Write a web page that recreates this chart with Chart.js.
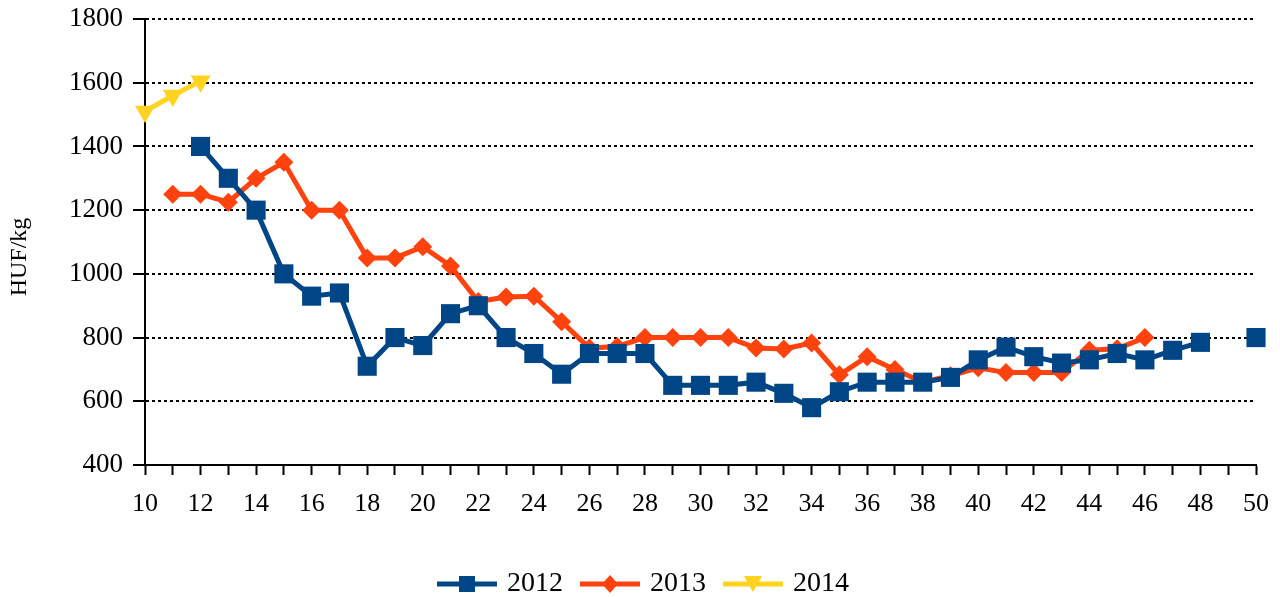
<!DOCTYPE html>
<html>
<head>
<meta charset="utf-8">
<script src="https://cdn.jsdelivr.net/npm/chart.js@4"></script>
<style>
  html, body { margin: 0; padding: 0; background: #fff; }
  #wrap { width: 1280px; height: 597px; }
</style>
</head>
<body>
<div id="wrap"><canvas id="chart"></canvas></div>
<script>
// weekly prices, HUF/kg
var weeks2012 = [12,13,14,15,16,17,18,19,20,21,22,23,24,25,26,27,28,29,30,31,32,33,34,35,36,37,38,39,40,41,42,43,44,45,46,47,48,49,50];
var values2012 = [1400,1300,1200,1000,930,940,710,800,775,875,900,800,750,685,750,750,750,650,650,650,660,625,580,630,660,660,660,675,730,770,740,720,730,750,730,760,785,null,800];

var weeks2013 = [11,12,13,14,15,16,17,18,19,20,21,22,23,24,25,26,27,28,29,30,31,32,33,34,35,36,37,38,39,40,41,42,43,44,45,46];
var values2013 = [1250,1250,1225,1300,1350,1200,1200,1050,1050,1085,1025,913,927,930,850,767,772,800,800,800,800,767,764,783,683,740,700,660,680,705,690,690,690,760,765,800];

var weeks2014 = [10,11,12];
var values2014 = [1510,1560,1605];

var seriesNames = ['2012','2013','2014'];
var colors = ['#004586','#ff420e','#ffd320'];
var yTitle = 'HUF/kg';

function toPoints(weeks, vals){
    var pts = [];
    for(var i=0;i<weeks.length;i++){
        pts.push({x: weeks[i], y: vals[i]});
    }
    return pts;
}

// little "line + marker" pictures for the legend
function legendIcon(color, shape){
    var c = document.createElement('canvas');
    c.width = 60; c.height = 24;
    var g = c.getContext('2d');
    g.strokeStyle = color;
    g.fillStyle = color;
    g.lineWidth = 5;
    g.beginPath(); g.moveTo(0,12); g.lineTo(60,12); g.stroke();
    g.beginPath();
    if(shape == 'rect'){
        g.rect(22,4,16,16);
    }else if(shape == 'diamond'){
        g.moveTo(30,3); g.lineTo(38,12); g.lineTo(30,21); g.lineTo(22,12);
    }else{
        g.moveTo(21,4); g.lineTo(39,4); g.lineTo(30,20);
    }
    g.closePath();
    g.fill();
    return c;
}
var icons = [legendIcon(colors[0],'rect'), legendIcon(colors[1],'diamond'), legendIcon(colors[2],'tri')];

// y title sits a little below the middle of the axis in the original
var yTitlePlugin = {
    id: 'yTitle',
    afterDraw: function(ch){
        var c = ch.ctx, area = ch.chartArea;
        c.save();
        c.translate(20, (area.top + area.bottom) / 2 + 15);
        c.rotate(-Math.PI / 2);
        c.font = '24px "Liberation Serif"';
        c.fillStyle = '#000';
        c.textAlign = 'center';
        c.textBaseline = 'middle';
        c.fillText(yTitle, 0, 0);
        c.restore();
    }
};

var ctx = document.getElementById('chart').getContext('2d');
var chart = new Chart(ctx, {
    type: 'line',
    data: {
        datasets: [{
            label: seriesNames[0],
            data: toPoints(weeks2012, values2012),
            borderColor: colors[0],
            backgroundColor: colors[0],
            borderWidth: 5,
            pointStyle: 'rect',
            pointRadius: 13.5,
            pointHoverRadius: 13.5,
            pointBorderWidth: 0,
            spanGaps: false,
            clip: false
        },{
            label: seriesNames[1],
            data: toPoints(weeks2013, values2013),
            borderColor: colors[1],
            backgroundColor: colors[1],
            borderWidth: 5,
            pointStyle: 'rectRot',
            pointRadius: 9.5,
            pointHoverRadius: 9.5,
            pointBorderWidth: 0,
            clip: false
        },{
            label: seriesNames[2],
            data: toPoints(weeks2014, values2014),
            borderColor: colors[2],
            backgroundColor: colors[2],
            borderWidth: 5,
            pointStyle: 'triangle',
            rotation: 180,
            pointRadius: 11.5,
            pointHoverRadius: 11.5,
            pointBorderWidth: 0,
            clip: false
        }]
    },
    plugins: [yTitlePlugin],
    options: {
        responsive: true,
        maintainAspectRatio: false,
        animation: false,
        layout: { padding: { top: 0, right: 24, left: 34, bottom: -11 } },
        plugins: {
            tooltip: { enabled: false },
            legend: {
                position: 'bottom',
                labels: {
                    usePointStyle: true,
                    pointStyleWidth: 52,
                    padding: 21,
                    color: '#000',
                    font: { family: 'Liberation Serif', size: 28 },
                    generateLabels: function(ch){
                        var items = Chart.defaults.plugins.legend.labels.generateLabels(ch);
                        items.forEach(function(it, i){ it.pointStyle = icons[i]; it.rotation = 0; });
                        return items;
                    }
                }
            }
        },
        scales: {
            x: {
                type: 'linear',
                min: 10,
                max: 50,
                afterFit: function(s){ s.height = 84; },
                border: { display: true, color: '#000', width: 2 },
                grid: {
                    drawOnChartArea: false,
                    drawTicks: true,
                    tickLength: 10,
                    tickColor: '#000',
                    tickWidth: 2
                },
                ticks: {
                    stepSize: 1,
                    autoSkip: false,
                    maxRotation: 0,
                    padding: 11,
                    color: '#000',
                    font: { family: 'Liberation Serif', size: 26, lineHeight: 1.43 },
                    callback: function(v){ return v % 2 == 0 ? String(v) : ''; }
                }
            },
            y: {
                min: 400,
                max: 1800,
                afterFit: function(s){ s.width = 111; },
                border: { display: true, color: '#000', width: 2, dash: [3,3] },
                grid: {
                    color: '#000',
                    lineWidth: 2,
                    drawTicks: true,
                    tickLength: 12,
                    tickColor: '#000',
                    tickWidth: 2,
                    tickBorderDash: []
                },
                ticks: {
                    stepSize: 200,
                    padding: 10,
                    color: '#000',
                    font: { family: 'Liberation Serif', size: 27, lineHeight: 0.667 },
                    callback: function(v){ return String(v); }
                }
            }
        }
    }
});
</script>
</body>
</html>
